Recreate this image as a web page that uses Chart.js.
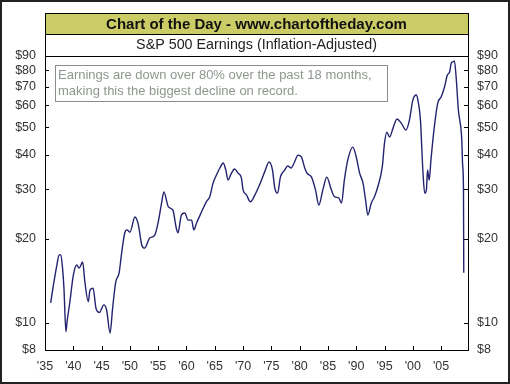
<!DOCTYPE html>
<html><head><meta charset="utf-8">
<script src="https://cdn.jsdelivr.net/npm/chart.js@4/dist/chart.umd.min.js"></script>
<style>html,body{margin:0;padding:0;background:#fff;}#wrap{position:relative;width:510px;height:384px;}canvas{display:block;}</style>
</head><body><div id="wrap"><canvas id="c" width="510" height="384"></canvas></div>
<script>
const titleText = "Chart of the Day - www.chartoftheday.com";
const subtitleText = "S&P 500 Earnings (Inflation-Adjusted)";
const noteLines = ["Earnings are down over 80% over the past 18 months,", "making this the biggest decline on record."];

const years = [1936.0,1936.5,1937.1,1937.5,1937.8,1938.1,1938.35,1938.7,1938.9,1939.4,
1940.0,1940.6,1941.05,1941.65,1942.05,1942.65,1942.95,1943.5,1944.0,1944.6,
1945.4,1945.9,1946.5,1946.95,1947.5,1948.1,1948.5,1949.1,1949.5,1950.0,
1950.9,1951.5,1952.1,1952.6,1953.5,1954.4,1955.0,1955.6,1956.0,1956.8,
1957.6,1958.2,1958.5,1959.1,1959.7,1960.3,1960.9,1961.3,1961.8,1962.65,
1963.5,1964.1,1964.7,1965.3,1965.9,1966.5,1966.95,1967.35,1967.8,1968.5,
1969.1,1969.7,1970.0,1970.6,1971.3,1972.1,1972.9,1973.8,1974.6,1975.2,
1975.6,1976.1,1976.6,1977.35,1977.9,1978.5,1979.1,1979.7,1980.3,1980.9,
1981.3,1982.1,1982.8,1983.4,1984.1,1984.8,1985.6,1986.2,1986.9,1987.4,
1987.9,1988.5,1989.4,1990.0,1990.6,1991.2,1991.65,1992.05,1992.65,1993.2,
1993.8,1994.6,1995.0,1995.4,1995.9,1996.5,1997.2,1997.95,1998.8,1999.4,
2000.0,2000.6,2000.9,2001.35,2001.6,2001.8,2002.1,2002.4,2002.6,2002.9,
2003.2,2003.8,2004.4,2005.0,2005.6,2006.1,2006.5,2006.8,2007.05,2007.35,
2007.65,2008.05,2008.65,2008.8,2008.95,2009.0];
const earnings = [11.8,13.7,16.1,17.5,17.5,15.7,13.3,9.3,10.1,11.9,
14.8,16.1,15.7,16.5,14.0,11.9,13.1,13.3,11.3,10.9,
11.6,11.1,9.2,11.3,14.0,15.1,17.5,21.0,21.5,21.1,
23.9,22.4,19.0,18.5,20.1,20.6,22.9,26.8,29.4,26.0,
25.3,21.8,21.0,24.3,24.7,23.3,23.3,21.5,22.8,24.9,
27.1,28.2,31.6,33.8,35.8,37.3,35.2,32.4,33.8,35.5,
34.3,33.0,29.9,28.7,27.1,28.7,31.1,34.6,37.6,35.2,
30.4,29.1,33.2,35.2,36.4,35.8,37.6,39.8,39.2,35.8,
34.3,33.2,29.9,26.4,29.9,33.2,29.9,28.2,28.0,26.8,
32.4,38.2,42.5,39.2,34.3,31.6,27.5,24.3,26.8,28.2,
30.6,36.1,44.0,48.1,46.2,49.7,53.6,51.8,48.9,53.1,
62.6,65.3,62.6,53.1,41.5,34.3,29.1,29.9,35.2,32.4,
38.2,50.2,61.1,64.2,69.7,76.9,78.9,85.0,85.7,86.4,
75.7,57.7,45.1,36.7,29.9,15.1];
const yTicks = [8,10,20,30,40,50,60,70,80,90];
const xTicks = [1935,1940,1945,1950,1955,1960,1965,1970,1975,1980,1985,1990,1995,2000,2005];
const xTickLabels = ["'35","'40","'45","'50","'55","'60","'65","'70","'75","'80","'85","'90","'95","'00","'05"];

const FONT = "'Liberation Sans', Arial, sans-serif";
const points = years.map((y,i)=>({x:y, y:earnings[i]}));

const decor = {
  id:'decor',
  beforeDraw(chart){
    const c = chart.ctx; c.save();
    c.fillStyle='#fff'; c.fillRect(0,0,chart.width,chart.height);
    c.restore();
  },
  afterDraw(chart){
    const c = chart.ctx, a = chart.chartArea;
    const xs = chart.scales.x, yl = chart.scales.y, yr = chart.scales.y2;
    c.save();
    c.strokeStyle='#000'; c.lineWidth=1;
    c.beginPath();
    yTicks.forEach(v=>{
      const p = Math.round(yl.getPixelForValue(v))+0.5;
      c.moveTo(a.left, p); c.lineTo(a.left+4, p);
      const q = Math.round(yr.getPixelForValue(v))+0.5;
      c.moveTo(a.right, q); c.lineTo(a.right-4, q);
    });
    xTicks.forEach(v=>{
      const p = Math.round(xs.getPixelForValue(v))+0.5;
      c.moveTo(p, a.bottom); c.lineTo(p, a.bottom-4);
    });
    c.stroke();
    c.strokeRect(Math.round(a.left)+0.5, Math.round(a.top)+0.5, Math.round(a.right-a.left), Math.round(a.bottom-a.top));
    const L = Math.round(a.left)+0.5, W = Math.round(a.right-a.left);
    c.fillStyle='#cccc66'; c.fillRect(L,13.5,W,21);
    c.strokeRect(L,13.5,W,21);
    c.fillStyle='#fff'; c.fillRect(L,34.5,W,Math.round(a.top)-34);
    c.strokeRect(L,34.5,W,Math.round(a.top)-34);
    c.fillStyle='#111'; c.textAlign='center'; c.textBaseline='middle';
    c.font = "bold 15px "+FONT;
    c.fillText(titleText, (a.left+a.right)/2, 24.5);
    c.font = "14.3px "+FONT;
    c.fillStyle='#222';
    c.fillText(subtitleText, (a.left+a.right)/2, 45.5);
    c.fillStyle='#fff'; c.fillRect(55.5,65.5,332,36);
    c.strokeStyle='#8c8c8c'; c.strokeRect(55.5,65.5,332,36);
    c.fillStyle='#8e978e'; c.textAlign='left'; c.font="13px "+FONT;
    c.fillText(noteLines[0], 58, 75);
    c.fillText(noteLines[1], 58, 91);
    c.strokeStyle='#222'; c.lineWidth=2;
    c.strokeRect(1,1,chart.width-2,chart.height-2);
    c.restore();
  }
};

const yCommon = {
  type:'logarithmic', min:8, max:90,
  afterBuildTicks: s => { s.ticks = yTicks.map(v=>({value:v})); },
  ticks:{ callback: v => '$'+v, font:{family:FONT,size:12.5}, color:'#333', padding:1, autoSkip:false },
  grid:{display:false}, border:{display:false}
};

new Chart(document.getElementById('c'), {
  type:'line',
  data:{ datasets:[{ data: points, borderColor:'#23236f', borderWidth:1.4, pointRadius:0, cubicInterpolationMode:'monotone', fill:false, yAxisID:'y' }]},
  options:{
    responsive:false, animation:false, devicePixelRatio:1,
    layout:{ padding:{top:56,left:0,right:0,bottom:0} },
    plugins:{ legend:{display:false}, tooltip:{enabled:false} },
    scales:{
      x:{ type:'linear', position:'bottom', min:1935, max:2009.75,
        afterBuildTicks: s => { s.ticks = xTicks.map(v=>({value:v})); },
        ticks:{ callback:(v)=> xTickLabels[xTicks.indexOf(v)], font:{family:FONT,size:12.5}, color:'#333', padding:1, maxRotation:0, autoSkip:false },
        grid:{display:false}, border:{display:false},
        afterFit: s => { s.height = 34; } },
      y: Object.assign({}, yCommon, { position:'left', afterFit: s => { s.width = 45; } }),
      y2: Object.assign({}, yCommon, { position:'right', afterFit: s => { s.width = 42; } })
    }
  },
  plugins:[decor]
});
</script></body></html>
